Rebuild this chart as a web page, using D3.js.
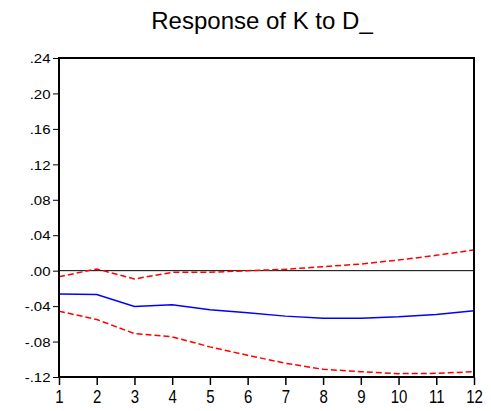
<!DOCTYPE html>
<html>
<head>
<meta charset="utf-8">
<script src="https://cdn.jsdelivr.net/npm/d3@7"></script>
<style>
  html, body { margin: 0; padding: 0; background: #fff; }
  svg { display: block; font-family: "Liberation Sans", Arial, sans-serif; }
</style>
</head>
<body>
<svg id="chart" width="491" height="411"></svg>
<script>
// impulse response of K to D_, with +/- 2 s.e. bands
const periods = [1, 2, 3, 4, 5, 6, 7, 8, 9, 10, 11, 12];
const response = [-0.0264, -0.0270, -0.0404, -0.0385, -0.0442, -0.0475, -0.0513, -0.0536, -0.0536, -0.0520, -0.0494, -0.0453];
const upperBand = [-0.0068, 0.0019, -0.0094, -0.0019, -0.0019, 0.0000, 0.0015, 0.0045, 0.0075, 0.0120, 0.0173, 0.0234];
const lowerBand = [-0.0457, -0.0551, -0.0710, -0.0747, -0.0860, -0.0955, -0.1045, -0.1113, -0.1140, -0.1162, -0.1159, -0.1140];
const yTicks = [-0.12, -0.08, -0.04, 0.00, 0.04, 0.08, 0.12, 0.16, 0.20, 0.24];

const svg = d3.select('#chart');
const margin = { top: 58, right: 17, bottom: 34, left: 59 };
const width = 491 - margin.left - margin.right;
const height = 411 - margin.top - margin.bottom;

const x = d3.scaleLinear().domain([1, 12]).range([0, width]);
const y = d3.scaleLinear().domain([-0.12, 0.24]).range([height, 0]);

const fmt = d => (d < 0 ? '-' : '') + d3.format('.2f')(Math.abs(d)).replace(/^0/, '');

svg.append('text')
  .attr('x', 262).attr('y', 28.5)
  .attr('text-anchor', 'middle')
  .attr('font-size', '24px')
  .attr('fill', '#000')
  .text('Response of K to D_');

const g = svg.append('g').attr('transform', `translate(${margin.left},${margin.top})`);

// y axis
const yAxis = g.append('g')
  .call(d3.axisLeft(y).tickValues(yTicks).tickFormat(fmt).tickSize(6).tickSizeOuter(0));
yAxis.select('.domain').remove();
yAxis.selectAll('line').attr('stroke', '#000').attr('stroke-width', 1);
yAxis.selectAll('text')
  .attr('x', -8.5).attr('y', 5.3).attr('dy', null)
  .attr('transform', 'scale(1,0.88)')
  .style('font-size', '15px').style('font-family', '"Liberation Sans", Arial, sans-serif')
  .attr('fill', '#000');

// x axis
const xAxis = g.append('g')
  .attr('transform', `translate(0,${height})`)
  .call(d3.axisBottom(x).tickValues(periods).tickFormat(d3.format('d')).tickSize(8).tickSizeOuter(0));
xAxis.select('.domain').remove();
xAxis.selectAll('line').attr('stroke', '#000').attr('stroke-width', 1.5);
xAxis.selectAll('text')
  .attr('y', 21.3).attr('dy', null)
  .attr('transform', 'scale(1,1.22)')
  .style('font-size', '15px').style('font-family', '"Liberation Sans", Arial, sans-serif')
  .attr('fill', '#000');

// zero line
g.append('line')
  .attr('x1', 0).attr('x2', width)
  .attr('y1', y(0)).attr('y2', y(0))
  .attr('stroke', '#000').attr('stroke-width', 1);

const line = d3.line().x((d, i) => x(periods[i])).y(d => y(d));

g.append('path').datum(upperBand)
  .attr('d', line).attr('fill', 'none')
  .attr('stroke', '#ff0000').attr('stroke-width', 1.5).attr('stroke-dasharray', '6 3');
g.append('path').datum(lowerBand)
  .attr('d', line).attr('fill', 'none')
  .attr('stroke', '#ff0000').attr('stroke-width', 1.5).attr('stroke-dasharray', '6 3');
g.append('path').datum(response)
  .attr('d', line).attr('fill', 'none')
  .attr('stroke', '#0000ff').attr('stroke-width', 1.5);

// frame
g.append('rect')
  .attr('x', 0).attr('y', 0).attr('width', width).attr('height', height)
  .attr('fill', 'none').attr('stroke', '#000').attr('stroke-width', 2);
</script>
</body>
</html>
